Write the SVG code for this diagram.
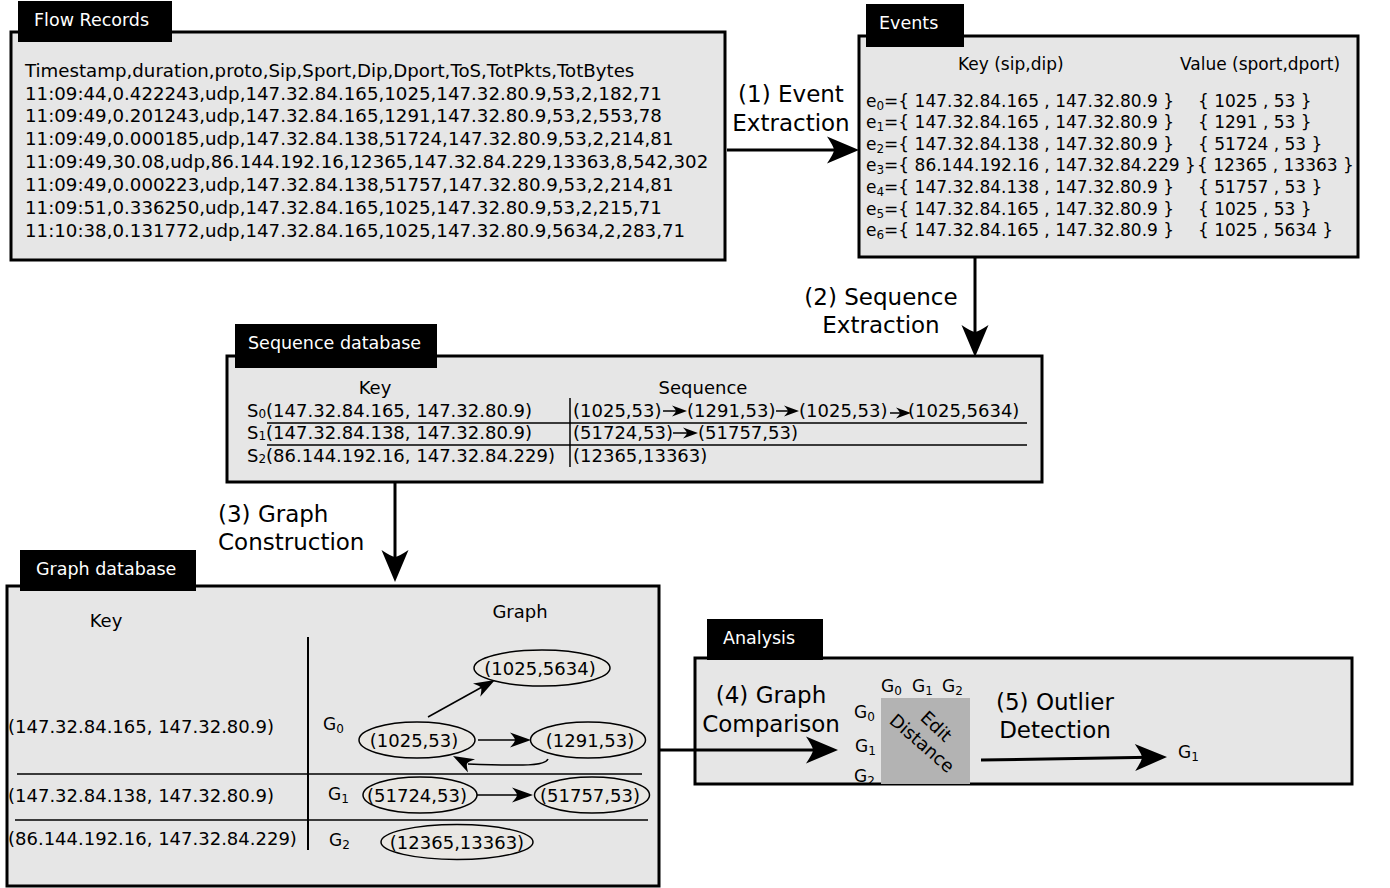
<svg xmlns="http://www.w3.org/2000/svg" xmlns:xlink="http://www.w3.org/1999/xlink" width="1390" height="888" viewBox="0 0 1390 888">
<style>
text { font-family: "DejaVu Sans", "Noto Sans", sans-serif; font-size: 18px; fill: #000; }
.box { fill: #e6e6e6; stroke: #000; stroke-width: 3; }
.tab { fill: #000; }
.tabt { fill: #fff; font-size: 17.5px; }
.fr { font-size: 18.2px; }
.ev { font-size: 17px; }
.lbl { font-size: 23px; text-anchor: middle; }
.lbll { font-size: 23px; }
.ell { fill: #e9e7e3; stroke: #000; stroke-width: 1.5; }
.ln { stroke: #000; stroke-width: 3; fill: none; }
.thin { stroke: #000; stroke-width: 1.5; fill: none; }
.div { stroke: #000; stroke-width: 2; fill: none; }
.g { font-size: 17px; }
.sub { font-size: 12px; }
.gsub { font-size: 12px; }
.mid { text-anchor: middle; }
</style>
<defs>
<path id="ah" d="M0,0 L-32,-13.5 Q-25,-3 -25,0 Q-25,3 -32,13.5 Z" fill="#000"/>
<path id="mah" d="M0,0 L-21,-7.5 Q-16,-2 -16,0 Q-16,2 -21,7.5 Z" fill="#000"/>
<path id="sah" d="M0,0 L-15,-5.5 Q-11,-1 -11,0 Q-11,1 -15,5.5 Z" fill="#000"/>
</defs>

<g id="flow-records">
<rect class="box" x="11" y="32" width="714" height="228"/>
<rect class="tab" x="18" y="1" width="154" height="41"/>
<text class="tabt" x="34" y="26">Flow Records</text>
<text class="fr" x="25" y="76.7">Timestamp,duration,proto,Sip,Sport,Dip,Dport,ToS,TotPkts,TotBytes</text>
<text class="fr" x="25" y="99.6">11:09:44,0.422243,udp,147.32.84.165,1025,147.32.80.9,53,2,182,71</text>
<text class="fr" x="25" y="122.4">11:09:49,0.201243,udp,147.32.84.165,1291,147.32.80.9,53,2,553,78</text>
<text class="fr" x="25" y="145.3">11:09:49,0.000185,udp,147.32.84.138,51724,147.32.80.9,53,2,214,81</text>
<text class="fr" x="25" y="168.1">11:09:49,30.08,udp,86.144.192.16,12365,147.32.84.229,13363,8,542,302</text>
<text class="fr" x="25" y="191">11:09:49,0.000223,udp,147.32.84.138,51757,147.32.80.9,53,2,214,81</text>
<text class="fr" x="25" y="213.9">11:09:51,0.336250,udp,147.32.84.165,1025,147.32.80.9,53,2,215,71</text>
<text class="fr" x="25" y="236.7">11:10:38,0.131772,udp,147.32.84.165,1025,147.32.80.9,5634,2,283,71</text>
</g>

<g id="events">
<rect class="box" x="859" y="36" width="499" height="221"/>
<rect class="tab" x="866" y="4" width="98" height="43"/>
<text class="tabt" x="879" y="29">Events</text>
<text class="ev" x="958" y="70">Key (sip,dip)</text>
<text class="ev" x="1180" y="70">Value (sport,dport)</text>
<text class="ev" x="866" y="106.7">e<tspan class="sub" dy="3">0</tspan><tspan dy="-3">={ 147.32.84.165 , 147.32.80.9 }</tspan></text>
<text class="ev" x="866" y="128.3">e<tspan class="sub" dy="3">1</tspan><tspan dy="-3">={ 147.32.84.165 , 147.32.80.9 }</tspan></text>
<text class="ev" x="866" y="149.8">e<tspan class="sub" dy="3">2</tspan><tspan dy="-3">={ 147.32.84.138 , 147.32.80.9 }</tspan></text>
<text class="ev" x="866" y="171.4">e<tspan class="sub" dy="3">3</tspan><tspan dy="-3">={ 86.144.192.16 , 147.32.84.229 }</tspan></text>
<text class="ev" x="866" y="192.9">e<tspan class="sub" dy="3">4</tspan><tspan dy="-3">={ 147.32.84.138 , 147.32.80.9 }</tspan></text>
<text class="ev" x="866" y="214.5">e<tspan class="sub" dy="3">5</tspan><tspan dy="-3">={ 147.32.84.165 , 147.32.80.9 }</tspan></text>
<text class="ev" x="866" y="236">e<tspan class="sub" dy="3">6</tspan><tspan dy="-3">={ 147.32.84.165 , 147.32.80.9 }</tspan></text>
<text class="ev" x="1198" y="106.7">{ 1025 , 53 }</text>
<text class="ev" x="1198" y="128.3">{ 1291 , 53 }</text>
<text class="ev" x="1198" y="149.8">{ 51724 , 53 }</text>
<text class="ev" x="1197" y="171.4">{ 12365 , 13363 }</text>
<text class="ev" x="1198" y="192.9">{ 51757 , 53 }</text>
<text class="ev" x="1198" y="214.5">{ 1025 , 53 }</text>
<text class="ev" x="1198" y="236">{ 1025 , 5634 }</text>
</g>

<g id="sequence-database">
<rect class="box" x="227" y="356" width="815" height="126"/>
<rect class="tab" x="235" y="324" width="202" height="44"/>
<text class="tabt" x="248" y="349">Sequence database</text>
<text class="mid" x="375" y="394">Key</text>
<text class="mid" x="703" y="394">Sequence</text>
<line class="thin" x1="267" y1="423" x2="1027" y2="423"/>
<line class="thin" x1="267" y1="445" x2="1027" y2="445"/>
<line class="thin" x1="570" y1="398" x2="570" y2="467"/>
<text x="247" y="416.7">S<tspan class="sub" dy="1">0</tspan><tspan dy="-1">(147.32.84.165, 147.32.80.9)</tspan></text>
<text x="247" y="439.3">S<tspan class="sub" dy="1">1</tspan><tspan dy="-1">(147.32.84.138, 147.32.80.9)</tspan></text>
<text x="247" y="461.7">S<tspan class="sub" dy="1">2</tspan><tspan dy="-1">(86.144.192.16, 147.32.84.229)</tspan></text>
<text x="573" y="416.7">(1025,53)</text>
<text x="687" y="416.7">(1291,53)</text>
<text x="799" y="416.7">(1025,53)</text>
<text x="908" y="416.7">(1025,5634)</text>
<line class="thin" x1="663" y1="411" x2="676" y2="411"/>
<use xlink:href="#sah" transform="translate(687,411)"/>
<line class="thin" x1="776" y1="411" x2="788" y2="411"/>
<use xlink:href="#sah" transform="translate(799,411)"/>
<line class="thin" x1="890" y1="413" x2="900" y2="413"/>
<use xlink:href="#sah" transform="translate(911,413)"/>
<text x="573" y="439.3">(51724,53)</text>
<text x="698" y="439.3">(51757,53)</text>
<line class="thin" x1="673" y1="433" x2="687" y2="433"/>
<use xlink:href="#sah" transform="translate(698,433)"/>
<text x="573" y="461.7">(12365,13363)</text>
</g>

<g id="graph-database">
<rect class="box" x="7" y="586" width="652" height="300"/>
<rect class="tab" x="20" y="550" width="176" height="41"/>
<text class="tabt" x="36" y="575">Graph database</text>
<text class="mid" x="106" y="627">Key</text>
<text class="mid" x="520" y="618">Graph</text>
<line class="div" x1="308" y1="637" x2="308" y2="850"/>
<line class="thin" x1="17" y1="774" x2="642" y2="774"/>
<line class="thin" x1="15" y1="820" x2="648" y2="820"/>
<text x="8" y="732.7">(147.32.84.165, 147.32.80.9)</text>
<text x="8" y="801.7">(147.32.84.138, 147.32.80.9)</text>
<text x="8" y="845">(86.144.192.16, 147.32.84.229)</text>
<text class="g" x="323" y="730">G<tspan class="gsub" dy="3">0</tspan></text>
<text class="g" x="328" y="800">G<tspan class="gsub" dy="3">1</tspan></text>
<text class="g" x="329" y="846">G<tspan class="gsub" dy="3">2</tspan></text>
</g>

<g id="node-1025-5634">
<ellipse class="ell" cx="542" cy="668" rx="68" ry="18"/>
<text class="mid" x="540" y="674.5">(1025,5634)</text>
</g>
<g id="node-1025-53">
<ellipse class="ell" cx="417" cy="740" rx="58" ry="18"/>
<text class="mid" x="414" y="746.5">(1025,53)</text>
</g>
<g id="node-1291-53">
<ellipse class="ell" cx="588" cy="740" rx="57.5" ry="18"/>
<text class="mid" x="590" y="746.5">(1291,53)</text>
</g>
<g id="node-51724-53">
<ellipse class="ell" cx="420" cy="795" rx="57" ry="18"/>
<text class="mid" x="417" y="801.5">(51724,53)</text>
</g>
<g id="node-51757-53">
<ellipse class="ell" cx="592" cy="795" rx="57.5" ry="18"/>
<text class="mid" x="590" y="801.5">(51757,53)</text>
</g>
<g id="node-12365-13363">
<ellipse class="ell" cx="457" cy="842" rx="76" ry="17.5"/>
<text class="mid" x="457" y="848.5">(12365,13363)</text>
</g>

<g id="analysis">
<rect class="box" x="695" y="658" width="657" height="126"/>
<rect class="tab" x="707" y="619" width="116" height="41"/>
<text class="tabt" x="723" y="644">Analysis</text>
<rect x="881" y="698" width="89" height="86" fill="#b3b3b3"/>
<text class="mid" x="932" y="731" font-size="17" transform="rotate(43 932 731)">Edit</text>
<text class="mid" x="918" y="748" font-size="17" transform="rotate(41 918 748)">Distance</text>
<text class="g" x="881" y="691.7">G<tspan class="gsub" dy="3">0</tspan></text>
<text class="g" x="912" y="691.7">G<tspan class="gsub" dy="3">1</tspan></text>
<text class="g" x="942" y="691.7">G<tspan class="gsub" dy="3">2</tspan></text>
<text class="g" x="854" y="718.3">G<tspan class="gsub" dy="3">0</tspan></text>
<text class="g" x="855" y="751.7">G<tspan class="gsub" dy="3">1</tspan></text>
<text class="g" x="854" y="781.7">G<tspan class="gsub" dy="3">2</tspan></text>
<text class="g" x="1178" y="758">G<tspan class="gsub" dy="3">1</tspan></text>
</g>

<g id="connectors">
<line class="ln" x1="727" y1="150" x2="845" y2="150"/>
<use xlink:href="#ah" transform="translate(859,150)"/>
<text class="lbl" x="791" y="101.7">(1) Event</text>
<text class="lbl" x="791" y="131">Extraction</text>

<line class="ln" x1="975" y1="258" x2="975" y2="340"/>
<use xlink:href="#ah" transform="translate(975,357) rotate(90)"/>
<text class="lbl" x="881" y="305">(2) Sequence</text>
<text class="lbl" x="881" y="333">Extraction</text>

<line class="ln" x1="395" y1="483" x2="395" y2="566"/>
<use xlink:href="#ah" transform="translate(395,582) rotate(90)"/>
<text class="lbll" x="218" y="521.7">(3) Graph</text>
<text class="lbll" x="218" y="550">Construction</text>

<line class="ln" x1="660" y1="750" x2="822" y2="750"/>
<use xlink:href="#ah" transform="translate(838,750)"/>
<text class="lbl" x="771" y="703.3">(4) Graph</text>
<text class="lbl" x="771" y="731.7">Comparison</text>

<line class="ln" x1="981" y1="760" x2="1150" y2="757.3"/>
<use xlink:href="#ah" transform="translate(1167,757) rotate(-0.9)"/>
<text class="lbl" x="1055" y="710">(5) Outlier</text>
<text class="lbl" x="1055" y="738">Detection</text>

<line class="thin" x1="428" y1="717" x2="483" y2="686.5"/>
<use xlink:href="#mah" transform="translate(495,680) rotate(-29)"/>
<line class="thin" x1="478" y1="740" x2="518" y2="740"/>
<use xlink:href="#mah" transform="translate(531,740)"/>
<path class="thin" d="M548,759 C545,766 525,766 468,764"/>
<use xlink:href="#mah" transform="translate(453,756) rotate(208)"/>
<line class="thin" x1="477" y1="795" x2="520" y2="795"/>
<use xlink:href="#mah" transform="translate(533,795)"/>
</g>
</svg>
